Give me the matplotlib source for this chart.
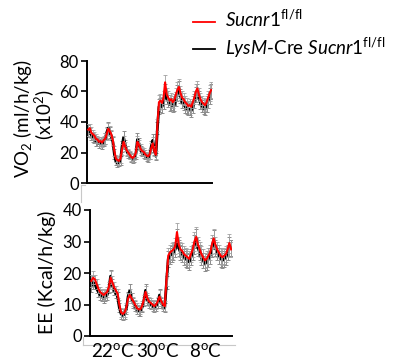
import numpy as np
import matplotlib
matplotlib.use("Agg")
import matplotlib.pyplot as plt
from matplotlib.lines import Line2D

plt.rcParams['font.family'] = ['Lato', 'DejaVu Sans']
plt.rcParams['mathtext.fontset'] = 'custom'
plt.rcParams['mathtext.rm'] = 'Lato'
plt.rcParams['mathtext.it'] = 'Lato:italic'

# time points (hourly bins) across the three temperature phases
hours = np.arange(81)

# VO2 (x10^2 ml/h/kg)
vo2_flfl = [35, 36, 33, 32, 31, 29, 28.5, 27, 27.5, 26.5, 28, 29, 32, 35.5, 34, 32, 28, 21, 16, 15,
            14.5, 16, 22, 27, 24, 21.5, 20, 18.5, 17, 16.5, 17.5, 20, 27, 25, 22.5, 21, 20.5, 19, 18, 17.5,
            19, 23, 26, 21, 18.5, 38, 53, 54, 52.5, 56, 66, 58, 56, 54, 55, 53, 54.5, 58, 61, 63,
            59, 56, 55, 53, 52, 50.5, 51, 50, 53, 56, 60, 62, 58, 55, 53, 52, 51, 53, 56, 59, 61]
vo2_lysm = [34, 33, 31.5, 30, 29, 27.5, 27, 26, 26.5, 25.5, 27, 29, 33, 36, 33, 31, 27, 19, 14, 13,
            13.5, 15, 24, 30, 25, 21, 19, 18, 16.5, 15.5, 16.5, 19, 28.5, 26, 21.5, 20, 19, 18, 17, 16.5,
            18.5, 24, 28, 21.5, 17.5, 36, 50, 51, 50, 53, 60, 56, 54, 51.5, 52, 50.5, 51, 55, 59, 62,
            57, 53, 52, 50, 49, 48, 48.5, 47.5, 50, 54, 58, 60, 56, 52.5, 50.5, 49, 48.5, 50.5, 54, 57, 60]
vo2_err = [4, 3, 3.5, 3, 2.5, 3, 2.5, 3, 2.5, 3, 3, 3.5, 4, 4, 3.5, 3, 3, 3, 2.5, 2.5,
           2.5, 3, 3.5, 4, 3, 3, 2.5, 2.5, 2.5, 2.5, 2.5, 3, 4, 3.5, 3, 2.5, 2.5, 2.5, 2.5, 2.5,
           3, 3.5, 4, 3, 2.5, 4, 5, 4.5, 4, 4.5, 5, 4.5, 4, 4, 4, 4, 4, 4.5, 5, 5,
           4.5, 4, 4, 4, 4, 3.5, 4, 4, 4, 4.5, 5, 5, 4.5, 4, 4, 4, 4, 4, 4.5, 5, 5]

# EE (Kcal/h/kg)
ee_flfl = [17.5, 18.5, 18, 16.5, 15, 14, 13.5, 13, 13.5, 14, 15.5, 18.5, 17, 15.5, 14.5, 13.5, 10, 7.5, 7, 7.5,
           9, 12, 13, 12, 11, 10, 9, 8.5, 8.5, 9.5, 11.5, 14, 12, 11, 10.5, 10, 9.5, 10, 11, 12.5,
           11, 10, 9.5, 18, 25.5, 26.5, 27, 27.5, 28.5, 33, 29, 27.5, 27, 26, 25.5, 25, 24.5, 26, 27.5, 30,
           31.5, 29, 27.5, 26, 25, 24, 24.5, 25.5, 26.5, 29, 31, 29, 27.5, 26.5, 25.5, 25, 25.5, 26, 27.5, 29.5, 27.5]
ee_lysm = [16, 17, 16.5, 15, 14, 13, 12.5, 12, 12.5, 13, 15, 19, 16, 14.5, 13.5, 12.5, 9, 7, 6.5, 7,
           8.5, 12.5, 14.5, 12, 10.5, 9.5, 8.5, 8, 8, 9, 11, 14.5, 11.5, 10.5, 10, 9.5, 9, 9.5, 10.5, 13,
           10.5, 9.5, 9, 17, 24.5, 25.5, 26, 26.5, 27.5, 31, 28, 26.5, 26, 25, 24.5, 24, 23.5, 25, 26.5, 29,
           31, 28, 26.5, 25, 24, 23, 23.5, 24.5, 25.5, 28, 30.5, 28, 26.5, 25.5, 24.5, 24, 24.5, 25, 26.5, 28.5, 28]
ee_err = [2, 2, 1.5, 1.5, 1.5, 1.5, 1.5, 1.5, 1.5, 1.5, 1.5, 2, 2, 1.5, 1.5, 1.5, 1.5, 1.5, 1.5, 1.5,
          1.5, 1.5, 2, 1.5, 1.5, 1.5, 1.5, 1.5, 1.5, 1.5, 1.5, 2, 1.5, 1.5, 1.5, 1.5, 1.5, 1.5, 1.5, 2,
          1.5, 1.5, 1.5, 2, 2.5, 2.5, 2.5, 2.5, 2.5, 3, 2.5, 2.5, 2.5, 2.5, 2.5, 2.5, 2.5, 2.5, 2.5, 3,
          3, 2.5, 2.5, 2.5, 2.5, 2.5, 2.5, 2.5, 2.5, 3, 3, 2.5, 2.5, 2.5, 2.5, 2.5, 2.5, 2.5, 2.5, 3, 2.5]

temp_labels = ["22$^{\\rm o}$C", "30$^{\\rm o}$C", "8$^{\\rm o}$C"]
temp_label_x = [113, 158, 206]  # pixel centres under the bottom panel

W, H = 395, 360
fig = plt.figure(figsize=(W / 100, H / 100), dpi=100)


def px_axes(l, t, r, b):
    return fig.add_axes([l / W, 1 - b / H, (r - l) / W, (b - t) / H])


def draw_panel(ax, black, red, err, ymax, step):
    ax.errorbar(hours, black, yerr=err, color='black', ecolor='#8c8c8c', elinewidth=0.7,
                capsize=1.5, capthick=0.7, lw=2.0, zorder=2)
    ax.errorbar(hours, red, yerr=err, color='#ff0000', ecolor='#a0a0a0', elinewidth=0.6,
                capsize=1.5, capthick=0.6, lw=1.5, zorder=3)
    ax.set_xlim(-0.8, 80.5)
    ax.set_ylim(0, ymax)
    ax.set_yticks(np.arange(0, ymax + 1, step))
    ax.set_xticks([])
    for s in ['top', 'right']:
        ax.spines[s].set_visible(False)
    for s in ['left', 'bottom']:
        ax.spines[s].set_linewidth(1.4)
    ax.tick_params(axis='y', length=4, width=1.2, labelsize=12, pad=2)


ax1 = px_axes(87, 61, 212, 183)
draw_panel(ax1, vo2_lysm, vo2_flfl, vo2_err, 80, 20)

ax2 = px_axes(90, 210, 232, 336)
draw_panel(ax2, ee_lysm, ee_flfl, ee_err, 40, 10)

# y labels
fig.text(22 / W, 1 - 119 / H, "VO$_2$ (ml/h/kg)", rotation=90, ha='center', va='center', fontsize=13.5)
fig.text(44 / W, 1 - 115 / H, "(x10$^2$)", rotation=90, ha='center', va='center', fontsize=13.5)
fig.text(47 / W, 1 - 272 / H, "EE (Kcal/h/kg)", rotation=90, ha='center', va='center', fontsize=14)

# temperature labels
for lab, xp in zip(temp_labels, temp_label_x):
    fig.text(xp / W, 1 - 351 / H, lab, ha='center', va='center', fontsize=13.5)

# faint grey frame remnants
grey = '#c8c8c8'
fig.add_artist(Line2D([81 / W, 81 / W], [1 - 185 / H, 1 - 202 / H], color=grey, lw=0.8))
fig.add_artist(Line2D([81 / W, 85 / W], [1 - 185 / H, 1 - 185 / H], color=grey, lw=0.8))
fig.add_artist(Line2D([83 / W, 83 / W], [1 - 337 / H, 1 - 345 / H], color=grey, lw=0.8))
fig.add_artist(Line2D([83 / W, 235 / W], [1 - 345 / H, 1 - 345 / H], color=grey, lw=0.8))

# legend
fig.add_artist(Line2D([193 / W, 215 / W], [1 - 22 / H, 1 - 22 / H], color='#ff0000', lw=1.3))
fig.add_artist(Line2D([193 / W, 215 / W], [1 - 49 / H, 1 - 49 / H], color='black', lw=1.3))
fig.text(225 / W, 1 - 27 / H, "$\\it{Sucnr1}$$^{\\rm fl/fl}$", ha='left', va='baseline', fontsize=13.5)
fig.text(225 / W, 1 - 55 / H, "$\\it{LysM}$-Cre $\\it{Sucnr1}$$^{\\rm fl/fl}$", ha='left', va='baseline',
         fontsize=13.5)

fig.savefig("out.png", dpi=100)
